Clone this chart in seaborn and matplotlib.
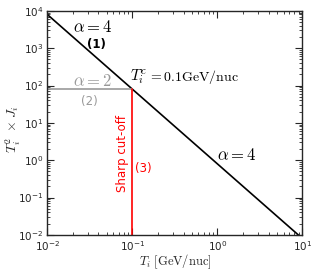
import numpy as np
import pandas as pd
import matplotlib
matplotlib.use("Agg")
import matplotlib.pyplot as plt
import seaborn as sns

# Data
T_main = [0.01, 10.0]          # alpha=4 power law endpoints
Y_main = [8000.0, 0.008]
T_gray = [0.01, 0.1]           # alpha=2 flat segment
Y_gray = [80.0, 80.0]
T_red = [0.1, 0.1]             # sharp cut-off
Y_red = [0.01, 80.0]

sns.set_style("ticks")
plt.rcParams["mathtext.fontset"] = "cm"
plt.rcParams["font.family"] = ["DejaVu Sans"]

fig, ax = plt.subplots(figsize=(3.15, 2.7), dpi=100)
fig.subplots_adjust(left=0.15, right=0.96, bottom=0.13, top=0.96)

kw = dict(ax=ax, estimator=None, sort=False, lw=1.2)
sns.lineplot(x=T_main, y=Y_main, color="black", **kw)
sns.lineplot(x=T_gray, y=Y_gray, color="#999999", **kw)
sns.lineplot(x=T_red, y=Y_red, color="red", **kw)

ax.set_xscale("log")
ax.set_yscale("log")
ax.set_xlim(1e-2, 1e1)
ax.set_ylim(1e-2, 1e4)
ax.tick_params(which="both", direction="in", top=True, right=True, labelsize=7.5, pad=3)
ax.tick_params(which="major", length=5, width=0.8)
ax.tick_params(which="minor", length=2.5, width=0.6)
ax.yaxis.set_major_locator(matplotlib.ticker.LogLocator(base=10, numticks=10))
ax.yaxis.set_minor_locator(matplotlib.ticker.LogLocator(base=10, subs=np.arange(2, 10), numticks=20))
for s in ax.spines.values():
    s.set_linewidth(1.0)

ax.set_xlabel(r"$T_i\ [\mathrm{GeV/nuc}]$", fontsize=9, labelpad=0)
ax.set_ylabel(r"$T_i^2\ \times J_i$", fontsize=10)
ax.yaxis.set_label_coords(-0.095, 0.47)

ax.text(0.034, 3700, r"$\alpha=4$", fontsize=12, ha="center", va="center", color="black")
ax.text(0.038, 1250, "(1)", fontsize=8.5, ha="center", va="center", color="black", fontweight="bold")
ax.text(0.034, 135, r"$\alpha=2$", fontsize=12, ha="center", va="center", color="#999999")
ax.text(0.031, 38, "(2)", fontsize=8.5, ha="center", va="center", color="#999999")
ax.text(0.093, 175, r"$T_i^c$", fontsize=11, ha="left", va="center", color="black")
ax.text(0.155, 170, r"$=0.1\mathrm{GeV/nuc}$", fontsize=10, ha="left", va="center", color="black")
ax.text(0.077, 1.5, "Sharp cut-off", fontsize=8.5, ha="center", va="center", color="red", rotation=90)
ax.text(0.135, 0.6, "(3)", fontsize=8.5, ha="center", va="center", color="red")
ax.text(1.7, 1.4, r"$\alpha=4$", fontsize=12, ha="center", va="center", color="black")

fig.savefig("out.png", dpi=100)
